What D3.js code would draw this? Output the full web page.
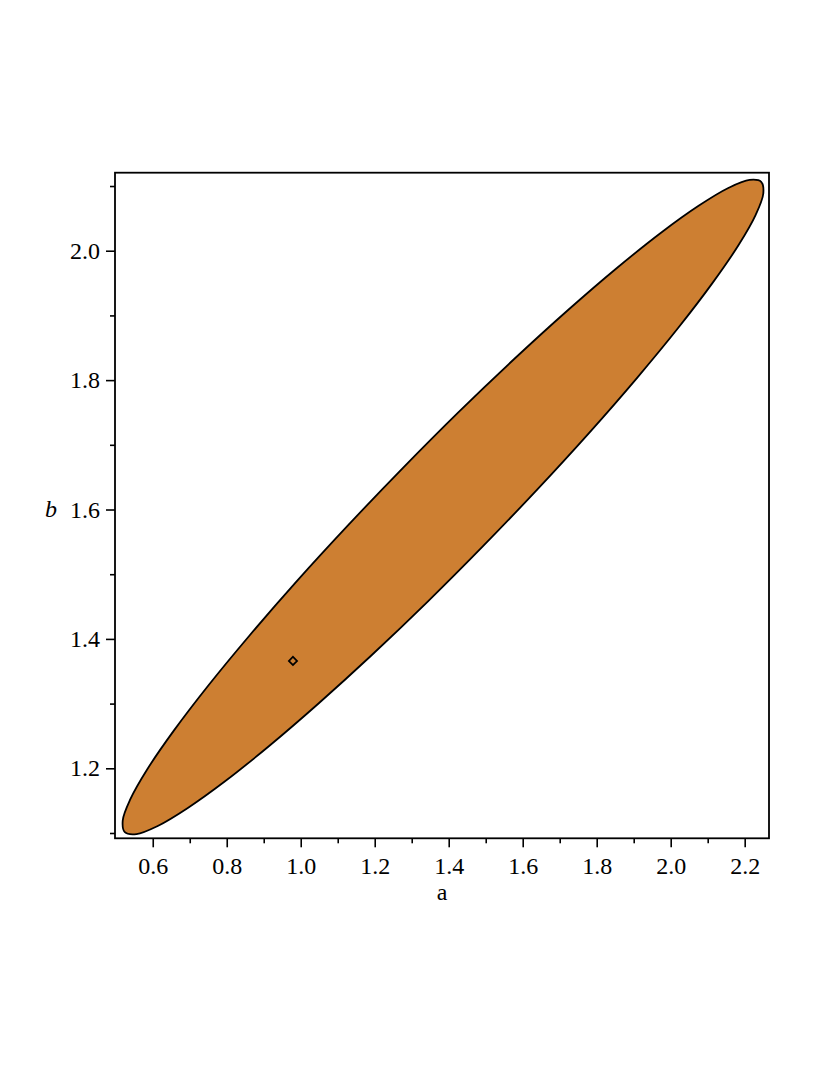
<!DOCTYPE html>
<html>
<head>
<meta charset="utf-8">
<script src="https://cdn.jsdelivr.net/npm/d3@7"></script>
<style>
  html, body { margin: 0; padding: 0; background: #ffffff; }
  svg { display: block; }
</style>
</head>
<body>
<svg id="chart" width="830" height="1075"></svg>
<script>
// ---- data ----
const xTickMajor = [0.6, 0.8, 1.0, 1.2, 1.4, 1.6, 1.8, 2.0, 2.2];
const xTickMinor = [0.7, 0.9, 1.1, 1.3, 1.5, 1.7, 1.9, 2.1];
const yTickMajor = [1.2, 1.4, 1.6, 1.8, 2.0];
const yTickMinor = [1.1, 1.3, 1.5, 1.7, 1.9, 2.1];
const xTickLabels = ["0.6", "0.8", "1.0", "1.2", "1.4", "1.6", "1.8", "2.0", "2.2"];
const yTickLabels = ["1.2", "1.4", "1.6", "1.8", "2.0"];
const xDomain = [0.498, 2.2657];
const yDomain = [1.0918, 2.1206];
const xLabel = "a";
const yLabel = "b";

// confidence-region outline (a, b)
const outlineA = [2.2446, 2.2503, 2.2297, 2.1835, 2.1127, 2.0200, 1.9081, 1.7803, 1.6403, 1.4927,
                  1.3419, 1.1922, 1.0481, 0.9146, 0.7954, 0.6938, 0.6135, 0.5562, 0.5246, 0.5189,
                  0.5395, 0.5857, 0.6565, 0.7492, 0.8611, 0.9889, 1.1289, 1.2765, 1.4273, 1.5770,
                  1.7211, 1.8546, 1.9738, 2.0754, 2.1557, 2.2130];
const outlineB = [2.1065, 2.0884, 2.0555, 2.0088, 1.9499, 1.8805, 1.8028, 1.7189, 1.6315, 1.5433,
                  1.4569, 1.3751, 1.3002, 1.2345, 1.1799, 1.1383, 1.1108, 1.0983, 1.1012, 1.1193,
                  1.1522, 1.1989, 1.2578, 1.3272, 1.4049, 1.4889, 1.5762, 1.6644, 1.7509, 1.8326,
                  1.9076, 1.9733, 2.0278, 2.0694, 2.0969, 2.1094];
// point estimate
const pointA = [0.979];
const pointB = [1.366];

// ---- layout ----
const svg = d3.select("#chart");
const mLeft = 115, mRight = 769, mTop = 172.7, mBottom = 838.3;
const x = d3.scaleLinear().domain(xDomain).range([mLeft, mRight]);
const y = d3.scaleLinear().domain(yDomain).range([mBottom, mTop]);
const fontFam = '"Liberation Serif", "Times New Roman", serif';

// region
const pts = outlineA.map((a, i) => [a, outlineB[i]]);
const line = d3.line().x(d => x(d[0])).y(d => y(d[1])).curve(d3.curveCatmullRomClosed.alpha(0.5));
svg.append("path")
  .attr("d", line(pts))
  .attr("fill", "#cd7f32")
  .attr("stroke", "#000")
  .attr("stroke-width", 1.8)
  .attr("stroke-linejoin", "round");

// point marker (diamond)
const sym = d3.symbol().type(d3.symbolSquare).size(34);
svg.selectAll("path.pt").data(pointA.map((a, i) => [a, pointB[i]])).enter()
  .append("path").attr("class", "pt")
  .attr("d", sym)
  .attr("transform", d => `translate(${x(d[0])},${y(d[1])}) rotate(45)`)
  .attr("fill", "none").attr("stroke", "#000").attr("stroke-width", 1.7);

// axes
const fs = 24;
const xAxis = svg.append("g").attr("transform", `translate(0,${mBottom})`)
  .call(d3.axisBottom(x).tickValues(xTickMajor).tickSize(9).tickPadding(10)
        .tickFormat((d, i) => xTickLabels[i]));
const xAxisMinor = svg.append("g").attr("transform", `translate(0,${mBottom})`)
  .call(d3.axisBottom(x).tickValues(xTickMinor).tickSize(5).tickFormat(""));
const yAxis = svg.append("g").attr("transform", `translate(${mLeft},0)`)
  .call(d3.axisLeft(y).tickValues(yTickMajor).tickSize(9).tickPadding(6)
        .tickFormat((d, i) => yTickLabels[i]));
const yAxisMinor = svg.append("g").attr("transform", `translate(${mLeft},0)`)
  .call(d3.axisLeft(y).tickValues(yTickMinor).tickSize(5).tickFormat(""));
[xAxis, xAxisMinor, yAxis, yAxisMinor].forEach(g => {
  g.attr("font-family", fontFam).attr("font-size", fs);
  g.select(".domain").remove();
  g.selectAll(".tick line").attr("stroke", "#000").attr("stroke-width", 1.6);
  g.selectAll(".tick text").attr("fill", "#000");
});

// frame
svg.append("rect")
  .attr("x", mLeft).attr("y", mTop)
  .attr("width", mRight - mLeft).attr("height", mBottom - mTop)
  .attr("fill", "none").attr("stroke", "#000").attr("stroke-width", 1.8);

// axis titles
svg.append("text").attr("x", (mLeft + mRight) / 2).attr("y", 900)
  .attr("text-anchor", "middle").attr("font-family", fontFam).attr("font-size", fs)
  .text(xLabel);
svg.append("text").attr("x", 51).attr("y", 517)
  .attr("text-anchor", "middle").attr("font-family", fontFam).attr("font-size", fs)
  .attr("font-style", "italic")
  .text(yLabel);
</script>
</body>
</html>
